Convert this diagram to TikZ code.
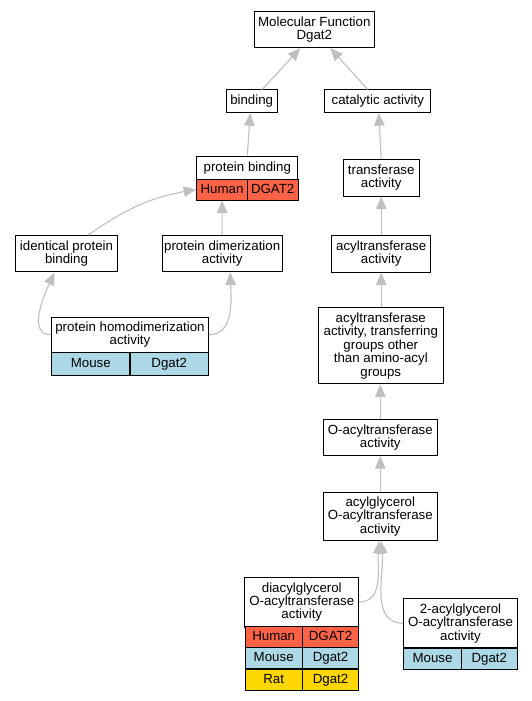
\documentclass[tikz,border=0pt]{standalone}
\usepackage{fontspec}
\setmainfont{Liberation Sans}
\usetikzlibrary{arrows.meta}

\definecolor{human}{HTML}{FF6347}
\definecolor{mouse}{HTML}{ADD8E6}
\definecolor{rat}{HTML}{FFD700}
\definecolor{edgegray}{HTML}{C0C0C0}

\begin{document}
\begin{tikzpicture}[x=1pt, y=-1pt,
  every node/.style={font=\fontsize{13.3}{13.4}\selectfont},
  term/.style={draw=black, line width=1pt, fill=white, align=center, inner sep=0pt},
  oneline/.style={term, text height=9.6pt, text depth=2.6pt},
  cell/.style={oneline, minimum height=21pt},
  isa/.style={draw=edgegray, line width=1.1pt, -{Triangle[length=12.5pt,width=10.5pt]}}]
  \useasboundingbox (0,0) rectangle (532,701);
  % terms
  \node[term, minimum width=120pt, minimum height=36pt] (mf) at (314.3,29.7) {Molecular Function\\Dgat2};
  \node[oneline, minimum width=51.3pt, minimum height=22.7pt] (bind) at (251.7,101.3) {binding};
  \node[oneline, minimum width=105.7pt, minimum height=22.7pt] (cat) at (377.8,101.3) {catalytic activity};
  \node[oneline, minimum width=101.3pt, minimum height=23pt] (pb) at (247.3,167.5) {protein binding};
  \node[cell, fill=human, minimum width=50.6pt] (pbhs) at (222,189.5) {Human};
  \node[cell, fill=human, minimum width=50.7pt] (pbhg) at (272.7,189.5) {DGAT2};
  \node[term, minimum width=75.7pt, minimum height=36.7pt] (tr) at (381.2,177.7) {transferase\\activity};
  \node[term, minimum width=99pt, minimum height=36.7pt] (acyl) at (381.2,253.7) {acyltransferase\\activity};
  \node[term, minimum width=125pt, minimum height=76.3pt] (acylt) at (380.8,345.8) {acyltransferase\\activity, transferring\\groups other\\than amino-acyl\\groups};
  \node[term, minimum width=101.6pt, minimum height=36.3pt] (idb) at (66.5,253.8) {identical protein\\binding};
  \node[term, minimum width=119.7pt, minimum height=36.3pt] (pdim) at (222.2,253.8) {protein dimerization\\activity};
  \node[term, minimum width=156.6pt, minimum height=35pt] (hd) at (130,334.8) {protein homodimerization\\activity};
  \node[cell, fill=mouse, minimum width=78.3pt, minimum height=22.7pt] (hdms) at (90.8,363.7) {Mouse};
  \node[cell, fill=mouse, minimum width=78.3pt, minimum height=22.7pt] (hdmg) at (169.2,363.7) {Dgat2};
  \node[term, minimum width=114pt, minimum height=35.7pt] (oacyl) at (380.3,437.8) {O-acyltransferase\\activity};
  \node[term, minimum width=114pt, minimum height=48.4pt] (ag) at (380.3,516.5) {acylglycerol\\O-acyltransferase\\activity};
  \node[term, minimum width=113.7pt, minimum height=50pt] (dag) at (301.8,602) {diacylglycerol\\O-acyltransferase\\activity};
  \node[cell, fill=human, minimum width=57.3pt, minimum height=20.7pt] (daghs) at (273.7,637.3) {Human};
  \node[cell, fill=human, minimum width=56.4pt, minimum height=20.7pt] (daghg) at (330.5,637.3) {DGAT2};
  \node[cell, fill=mouse, minimum width=57.3pt, minimum height=21.3pt] (dagms) at (273.7,658.3) {Mouse};
  \node[cell, fill=mouse, minimum width=56.4pt, minimum height=21.3pt] (dagmg) at (330.5,658.3) {Dgat2};
  \node[cell, fill=rat, minimum width=57.3pt, minimum height=21.3pt] (dagrs) at (273.7,679.7) {Rat};
  \node[cell, fill=rat, minimum width=56.4pt, minimum height=21.3pt] (dagrg) at (330.5,679.7) {Dgat2};
  \node[term, minimum width=113.6pt, minimum height=49.3pt] (tag) at (460.5,623.3) {2-acylglycerol\\O-acyltransferase\\activity};
  \node[cell, fill=mouse, minimum width=57.6pt] (tagms) at (432.5,658.5) {Mouse};
  \node[cell, fill=mouse, minimum width=56pt] (tagmg) at (489.3,658.5) {Dgat2};
  % is_a links
  \draw[isa] ([xshift=10.5pt]bind.north) -- ([xshift=-14pt]mf.south);
  \draw[isa] ([xshift=-10pt]cat.north) -- ([xshift=16pt]mf.south);
  \draw[isa] (pb.north) -- ([xshift=-1.5pt]bind.south);
  \draw[isa] (tr.north) -- ([xshift=1pt]cat.south);
  \draw[isa] (acyl.north) -- (tr.south);
  \draw[isa] ([xshift=0.4pt]acylt.north) -- (acyl.south);
  \draw[isa] (oacyl.north) -- ([xshift=-0.5pt]acylt.south);
  \draw[isa] (ag.north) -- (oacyl.south);
  \draw[isa] ([xshift=21.5pt]idb.north) to[out=35, in=190] (pbhs.west);
  \draw[isa] (pdim.north) -- (pbhs.south);
  \draw[isa] (hd.west) to[out=180, in=245] ([xshift=-12pt]idb.south);
  \draw[isa] (hd.east) to[out=0, in=272] ([xshift=8pt]pdim.south);
  \draw[isa] (dag.east) to[out=0, in=265] ([xshift=-1pt]ag.south);
  \draw[isa] (tag.west) to[out=180, in=275] ([xshift=1pt]ag.south);
\end{tikzpicture}
\end{document}
